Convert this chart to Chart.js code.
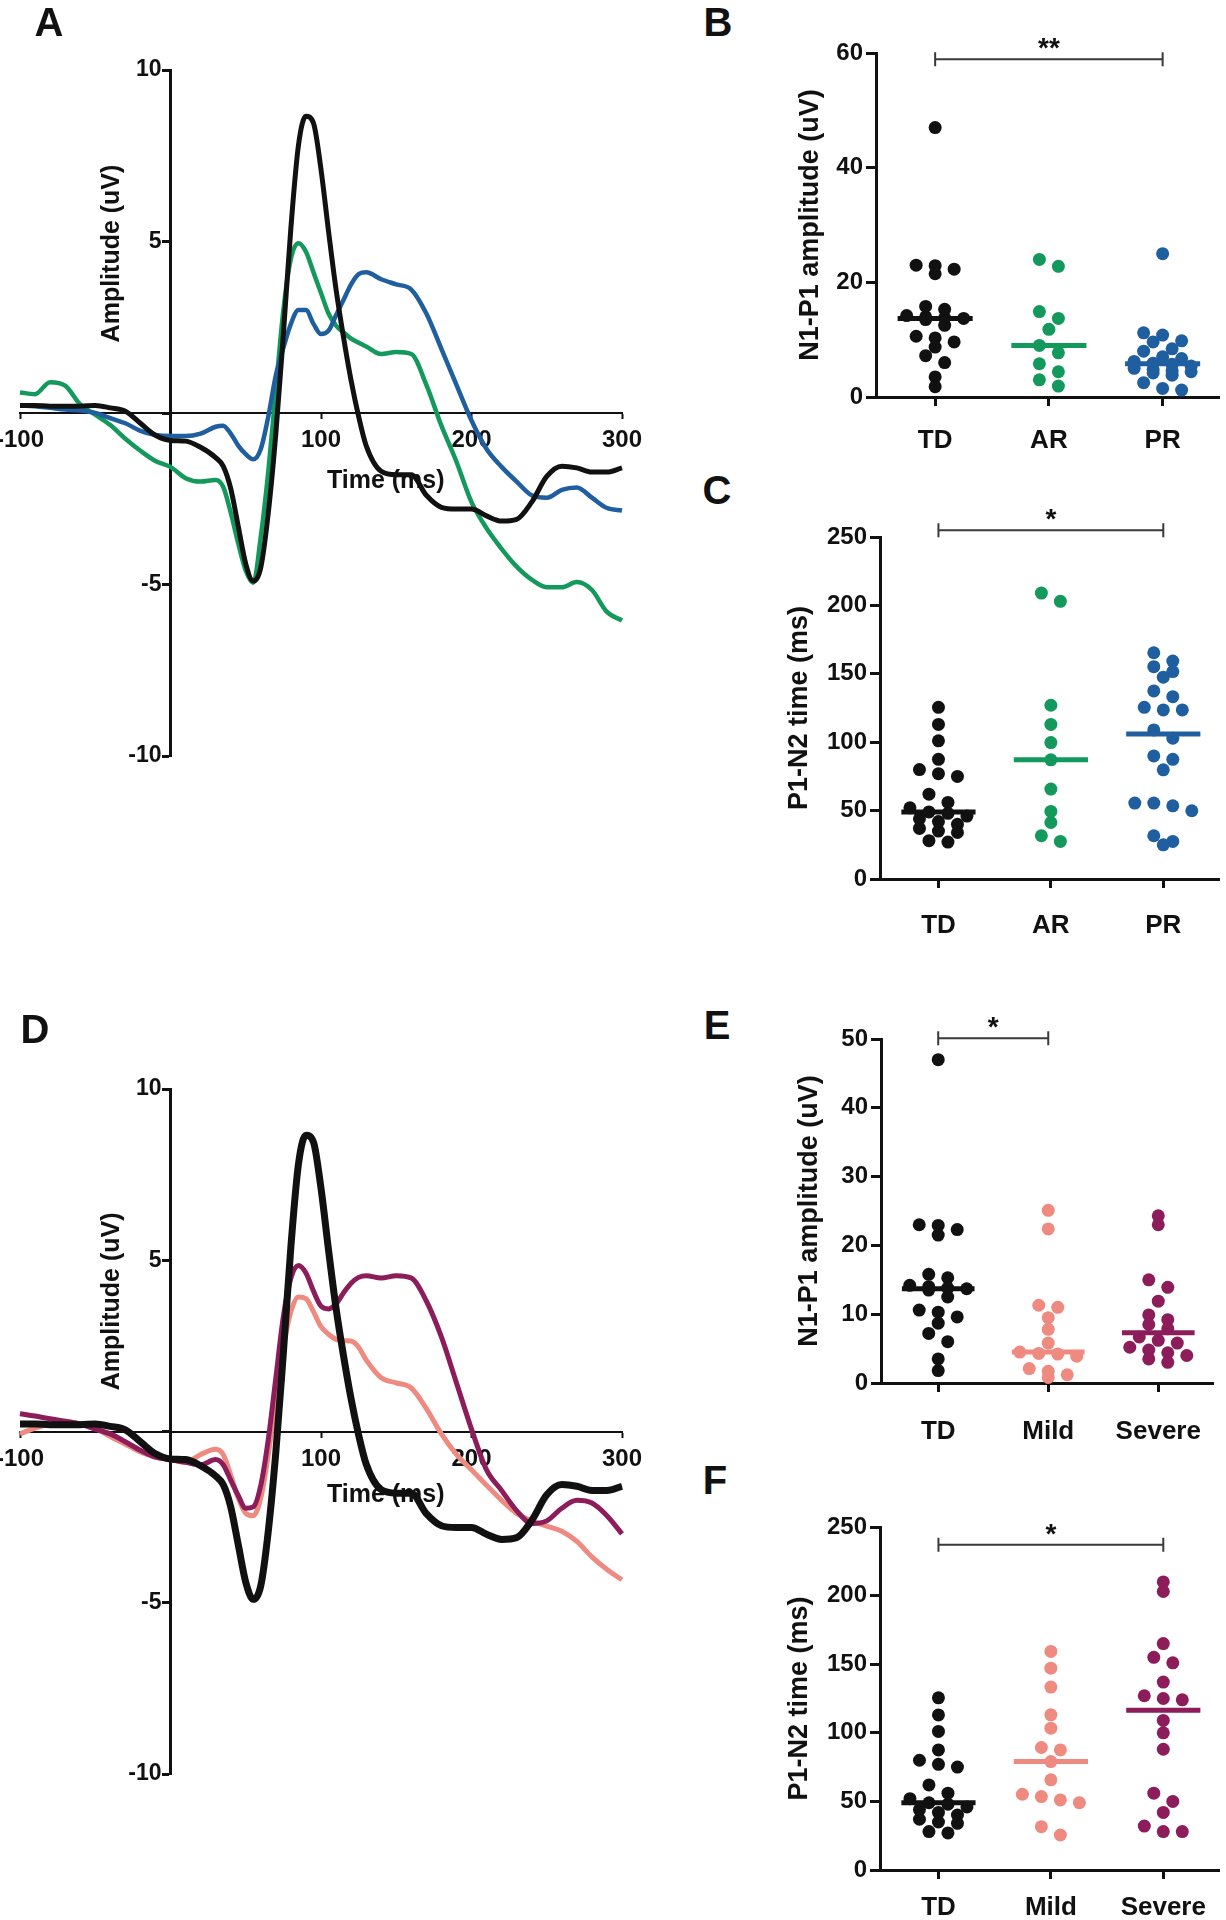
<!DOCTYPE html>
<html>
<head>
<meta charset="utf-8">
<script src="https://cdn.jsdelivr.net/npm/chart.js@4.4.1/dist/chart.umd.min.js"></script>
<style>
  html, body { margin: 0; padding: 0; background: #fff; }
  #fig { position: relative; width: 1226px; height: 1920px; overflow: hidden; background: #fff; }
  #fig canvas { position: absolute; }
  .letter { position: absolute; font: bold 40px "Liberation Sans", Arial, sans-serif; color: #111;
            transform: translate(-50%, -50%); line-height: 1; }
</style>
</head>
<body>
<div id="fig">
  <canvas id="chartA" width="720" height="820" style="left:-40px; top:0px"></canvas>
  <canvas id="chartD" width="720" height="820" style="left:-40px; top:1020px"></canvas>
  <canvas id="chartB" width="446" height="470" style="left:780px; top:0px"></canvas>
  <canvas id="chartC" width="446" height="470" style="left:780px; top:480px"></canvas>
  <canvas id="chartE" width="446" height="470" style="left:780px; top:990px"></canvas>
  <canvas id="chartF" width="446" height="480" style="left:780px; top:1460px"></canvas>
  <div class="letter" style="left:49px; top:22px">A</div>
  <div class="letter" style="left:718px; top:22px">B</div>
  <div class="letter" style="left:717px; top:490px">C</div>
  <div class="letter" style="left:35px; top:1029px">D</div>
  <div class="letter" style="left:717px; top:1025px">E</div>
  <div class="letter" style="left:715px; top:1480px">F</div>
</div>
<script>
// ---- waveforms (ms / uV) ----
const times = [-100, -90, -80, -70, -60, -50, -40, -30, -20, -10, 0, 10, 20, 30,
  35, 40, 45, 50, 55, 60, 65, 70, 75, 80, 85, 90, 95, 100, 105, 110, 115, 120, 125, 130,
  140, 150, 160, 170, 180, 190, 200, 210, 220, 230, 240, 250, 260, 270, 280, 290, 300];

const tdWave = [0.22, 0.22, 0.2, 0.2, 0.2, 0.22, 0.15, 0.05, -0.3, -0.65, -0.8, -0.82, -1.0, -1.3,
  -1.55, -2.2, -3.3, -4.4, -4.9, -4.5, -2.9, -0.6, 2.3, 5.4, 7.8, 8.65, 8.45, 7.1, 5.3, 3.6, 2.2, 0.95, -0.1, -0.95,
  -1.7, -1.8, -1.8, -2.4, -2.75, -2.8, -2.8, -3.0, -3.15, -3.1, -2.6, -1.85, -1.55, -1.6, -1.72, -1.72, -1.6];
const arWave = [0.6, 0.55, 0.9, 0.8, 0.25, -0.05, -0.35, -0.75, -1.1, -1.4, -1.57, -1.9, -2.0, -1.95,
  -2.15, -2.9, -3.8, -4.6, -4.95, -3.6, -1.7, 0.67, 3.0, 4.5, 4.95, 4.7, 4.1, 3.5, 2.9, 2.55, 2.35, 2.17, 2.05, 1.94,
  1.72, 1.78, 1.72, 0.82, -0.37, -1.42, -2.6, -3.36, -3.96, -4.48, -4.86, -5.08, -5.08, -4.93, -5.16, -5.8, -6.05];
const prWave = [0.22, 0.2, 0.15, 0.1, 0.07, 0, -0.15, -0.3, -0.52, -0.64, -0.67, -0.67, -0.6, -0.4,
  -0.37, -0.6, -0.95, -1.2, -1.35, -1.05, -0.1, 1.1, 1.9, 2.6, 3.0, 3.0, 2.6, 2.3, 2.4, 2.85, 3.3, 3.75, 4.05, 4.1,
  3.9, 3.75, 3.6, 2.9, 1.87, 0.82, -0.22, -1.05, -1.57, -2.0, -2.4, -2.47, -2.24, -2.17, -2.47, -2.77, -2.84];
const mildWave = [-0.07, 0.1, 0.22, 0.3, 0.22, 0.1, -0.15, -0.37, -0.6, -0.75, -0.82, -0.9, -0.67, -0.52,
  -0.67, -1.27, -1.94, -2.39, -2.46, -1.94, -0.67, 0.97, 2.46, 3.5, 3.93, 3.88, 3.5, 3.06, 2.84, 2.69, 2.65, 2.64, 2.46, 2.09,
  1.57, 1.42, 1.27, 0.67, -0.07, -0.67, -1.12, -1.57, -2.01, -2.39, -2.61, -2.76, -2.91, -3.21, -3.66, -4.03, -4.33];
const severeWave = [0.52, 0.45, 0.37, 0.3, 0.22, 0.07, -0.07, -0.3, -0.55, -0.75, -0.82, -0.9, -0.97, -0.82,
  -0.97, -1.42, -1.87, -2.24, -2.2, -1.57, -0.22, 1.57, 3.36, 4.48, 4.85, 4.63, 4.1, 3.66, 3.58, 3.73, 4.05, 4.33, 4.5, 4.55,
  4.48, 4.55, 4.48, 3.81, 2.76, 1.42, 0.07, -1.12, -1.72, -2.31, -2.69, -2.61, -2.24, -2.01, -2.09, -2.46, -2.99];

// ---- individual values ----
const groupsRisk = ['TD', 'AR', 'PR'];
const groupsSeverity = ['TD', 'Mild', 'Severe'];

const tdAmp = [47.0, 23.0, 22.9, 22.3, 21.5, 15.8, 15.3, 14.2, 14.0, 13.8, 13.7, 13.5, 12.5, 10.6, 10.3, 9.6, 8.7, 7.2, 6.0, 3.5, 1.8];
const arAmp = [24.0, 22.8, 14.9, 13.7, 11.8, 9.0, 7.7, 5.8, 4.4, 3.0, 1.9];
const prAmp = [25.0, 11.2, 10.8, 9.8, 9.6, 8.4, 8.0, 7.0, 6.7, 6.2, 5.9, 5.7, 5.4, 5.0, 4.8, 4.6, 4.4, 4.2, 3.8, 2.5, 1.5, 1.2];
const mildAmp = [25.1, 22.4, 11.3, 11.0, 9.5, 7.8, 5.8, 4.5, 4.3, 4.2, 3.9, 2.1, 1.7, 1.2, 0.8];
const severeAmp = [24.3, 23.0, 15.0, 13.9, 11.9, 9.9, 9.2, 8.5, 7.9, 6.7, 6.2, 5.8, 5.2, 4.8, 4.4, 4.0, 3.5, 3.0];

const tdTime = [125.5, 113, 101, 87.5, 80, 77, 75, 62, 56, 52, 49, 48, 46, 44, 42, 40, 37, 35, 34, 28, 27];
const arTime = [209, 203, 127, 113, 99.7, 87.1, 65.7, 49.4, 41.3, 31.6, 27.5];
const prTime = [165.4, 159.3, 155.2, 151.6, 147.5, 137.5, 133.3, 125.5, 123.6, 123.6, 109, 102.9, 90, 87.5, 79.8, 55.5, 55.5, 53.5, 49.9, 31.6, 27.5, 25.0];
const mildTime = [159.3, 147.1, 133.3, 113.1, 103.4, 89.3, 87.5, 79.0, 65.7, 55.2, 53.5, 51.1, 49.1, 31.6, 25.5];
const severeTime = [210, 203, 165, 155, 151, 137, 127, 125, 124, 109, 100, 88, 56, 50, 42, 32, 28, 28];

// ---- colours ----
const cBlack = '#111111';
const cGreen = '#13995b';
const cBlue = '#1f5e9f';
const cSalmon = '#ef8a81';
const cPlum = '#8c1d5a';

const FONT = '"Liberation Sans", Arial, Helvetica, sans-serif';
Chart.defaults.font.family = FONT;
Chart.defaults.font.weight = 'bold';
Chart.defaults.color = '#111';

function erpPanel(id, series, pad, ampAt, timeDy) {
  // axis titles + y tick labels (the y axis sits at x = 0, labels go left of it)
  const titles = {
    id: 'erpTitles',
    beforeDatasetsDraw(chart) {
      const { ctx, scales: { x, y } } = chart;
      const x0 = x.getPixelForValue(0);
      ctx.save();
      ctx.fillStyle = '#111';
      ctx.font = 'bold 23px ' + FONT;
      ctx.textAlign = 'right';
      ctx.textBaseline = 'middle';
      y.ticks.forEach(t => {
        if (t.value !== 0) ctx.fillText(String(t.value), x0 - 9, y.getPixelForValue(t.value));
      });
      ctx.font = 'bold 25px ' + FONT;
      ctx.textAlign = 'center';
      ctx.fillText('Time (ms)', x.getPixelForValue(143), y.getPixelForValue(0) + timeDy);
      ctx.translate(x0 - 58, y.getPixelForValue(ampAt));
      ctx.rotate(-Math.PI / 2);
      ctx.fillText('Amplitude (uV)', 0, 0);
      ctx.restore();
    }
  };
  return new Chart(document.getElementById(id), {
    type: 'scatter',
    data: {
      datasets: series.map(s => ({
        data: times.map((t, i) => ({ x: t, y: s.values[i] })),
        showLine: true,
        borderColor: s.color,
        borderWidth: s.width,
        pointRadius: 0,
        cubicInterpolationMode: 'monotone',
        clip: false
      }))
    },
    options: {
      responsive: false,
      animation: false,
      layout: { padding: pad },
      plugins: { legend: { display: false }, tooltip: { enabled: false } },
      scales: {
        x: {
          type: 'linear', min: -100, max: 300, position: { y: 0 },
          border: { color: '#111', width: 2 },
          grid: { drawOnChartArea: false, tickLength: 5, tickWidth: 2, color: '#111' },
          ticks: { stepSize: 100, padding: 8, maxRotation: 0, font: { size: 24, weight: 'bold' },
                   callback: v => v === 0 ? '' : v }
        },
        y: {
          type: 'linear', min: -10, max: 10, position: { x: 0 },
          border: { color: '#111', width: 3 },
          grid: { drawOnChartArea: false, tickLength: 7, tickWidth: 3, color: '#111' },
          ticks: { stepSize: 5, display: false }
        }
      }
    },
    plugins: [titles]
  });
}

function median(arr) {
  const s = [...arr].sort((a, b) => a - b);
  const m = Math.floor(s.length / 2);
  return s.length % 2 ? s[m] : (s[m - 1] + s[m]) / 2;
}

// prism-like column scatter: rows of nearby values spread around the category
function swarm(values, cat, chart) {
  const xs = chart.scales.x, ys = chart.scales.y;
  const step = 19 / (xs.getPixelForValue(1) - xs.getPixelForValue(0));
  const pts = values.map(v => ({ v, py: ys.getPixelForValue(v) })).sort((a, b) => a.py - b.py);
  const rows = [];
  let row = [];
  pts.forEach(p => {
    if (row.length && (p.py - row[0].py > 8.5 || row.length >= 4)) { rows.push(row); row = []; }
    row.push(p);
  });
  if (row.length) rows.push(row);
  const out = [];
  rows.forEach(r => r.forEach((p, i) => out.push({ x: cat + (i - (r.length - 1) / 2) * step, y: p.v })));
  return out;
}

function dotPanel(id, cats, groups, colors, yMax, yStep, pad, o) {
  const extras = {
    id: 'dotExtras',
    afterDraw(chart) {
      const { ctx, chartArea, scales: { x, y } } = chart;
      ctx.save();
      ctx.fillStyle = '#111';
      ctx.font = 'bold 27px ' + FONT;
      ctx.textAlign = 'center';
      ctx.textBaseline = 'middle';
      ctx.translate(chartArea.left - o.titleDx, (chartArea.top + chartArea.bottom) / 2);
      ctx.rotate(-Math.PI / 2);
      ctx.fillText(o.title, 0, 0);
      ctx.restore();

      const by = y.getPixelForValue(o.bracket.y);
      const x1 = x.getPixelForValue(o.bracket.from), x2 = x.getPixelForValue(o.bracket.to);
      ctx.save();
      ctx.strokeStyle = '#3a3a3a';
      ctx.lineWidth = 2;
      ctx.beginPath();
      ctx.moveTo(x1, by); ctx.lineTo(x2, by);
      ctx.moveTo(x1, by - 7); ctx.lineTo(x1, by + 7);
      ctx.moveTo(x2, by - 7); ctx.lineTo(x2, by + 7);
      ctx.stroke();
      ctx.fillStyle = '#111';
      ctx.font = 'bold 28px ' + FONT;
      ctx.textAlign = 'center';
      ctx.textBaseline = 'alphabetic';
      ctx.fillText(o.bracket.text, (x1 + x2) / 2, by - 2);
      ctx.restore();
    }
  };

  const medianSets = groups.map((g, i) => {
    const m = median(g);
    return {
      data: [{ x: i - 0.33, y: m }, { x: i + 0.33, y: m }],
      showLine: true, borderColor: colors[i], borderWidth: 5, pointRadius: 0, clip: false
    };
  });
  const pointSets = groups.map((g, i) => ({
    data: g.map(v => ({ x: i, y: v })),
    backgroundColor: colors[i], borderWidth: 0, pointRadius: 6.5, clip: false
  }));

  const chart = new Chart(document.getElementById(id), {
    type: 'scatter',
    data: { datasets: medianSets.concat(pointSets) },
    options: {
      responsive: false,
      animation: false,
      layout: { padding: pad },
      plugins: { legend: { display: false }, tooltip: { enabled: false } },
      scales: {
        x: {
          type: 'linear', min: -0.52, max: 2.5, position: 'bottom',
          afterFit: s => { s.height = 60; },
          afterBuildTicks: s => { s.ticks = [0, 1, 2].map(v => ({ value: v })); },
          border: { color: '#111', width: 3 },
          grid: { drawOnChartArea: false, tickLength: 9, tickWidth: 3, color: '#111' },
          ticks: { autoSkip: false, maxRotation: 0, padding: o.catPad, font: { size: 26, weight: 'bold' },
                   callback: v => cats[v] }
        },
        y: {
          type: 'linear', min: 0, max: yMax, position: 'left',
          afterFit: s => { s.width = 70; },
          border: { color: '#111', width: 3 },
          grid: { drawOnChartArea: false, tickLength: 10, tickWidth: 3, color: '#111' },
          ticks: { stepSize: yStep, padding: 3, font: { size: 24, weight: 'bold' } }
        }
      }
    },
    plugins: [extras]
  });

  groups.forEach((g, i) => { chart.data.datasets[groups.length + i].data = swarm(g, i, chart); });
  chart.update('none');
  return chart;
}

erpPanel('chartA', [
  { values: tdWave, color: cBlack, width: 5 },
  { values: prWave, color: cBlue, width: 4.5 },
  { values: arWave, color: cGreen, width: 4.5 }
], { left: 60, right: 58, top: 70, bottom: 64 }, 4.65, 68);

erpPanel('chartD', [
  { values: tdWave, color: cBlack, width: 7 },
  { values: severeWave, color: cPlum, width: 5 },
  { values: mildWave, color: cSalmon, width: 5 }
], { left: 60, right: 58, top: 69, bottom: 66 }, 3.8, 64);

dotPanel('chartB', groupsRisk, [tdAmp, arAmp, prAmp], [cBlack, cGreen, cBlue], 60, 20,
  { left: 26, right: 4, top: 53, bottom: 13 },
  { title: 'N1-P1 amplitude (uV)', titleDx: 65, catPad: 19, bracket: { y: 58.9, from: 0, to: 2, text: '**' } });

dotPanel('chartC', groupsRisk, [tdTime, arTime, prTime], [cBlack, cGreen, cBlue], 250, 50,
  { left: 30, right: 4, top: 57, bottom: 11 },
  { title: 'P1-N2 time (ms)', titleDx: 80, catPad: 22, bracket: { y: 255, from: 0, to: 2, text: '*' } });

dotPanel('chartE', groupsSeverity, [tdAmp, mildAmp, severeAmp], [cBlack, cSalmon, cPlum], 50, 10,
  { left: 31, right: 4, top: 49, bottom: 17 },
  { title: 'N1-P1 amplitude (uV)', titleDx: 71, catPad: 24, bracket: { y: 50.1, from: 0, to: 1, text: '*' } });

dotPanel('chartF', groupsSeverity, [tdTime, mildTime, severeTime], [cBlack, cSalmon, cPlum], 250, 50,
  { left: 30, right: 4, top: 67, bottom: 10 },
  { title: 'P1-N2 time (ms)', titleDx: 80, catPad: 13, bracket: { y: 237, from: 0, to: 2, text: '*' } });
</script>
</body>
</html>
